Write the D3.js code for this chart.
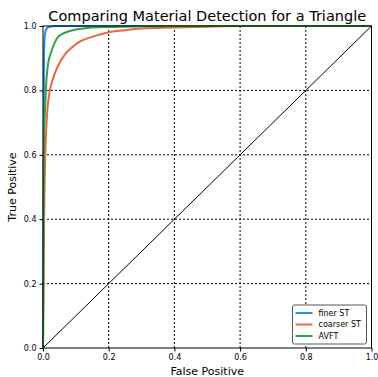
<!DOCTYPE html>
<html>
<head>
<meta charset="utf-8">
<script src="https://cdnjs.cloudflare.com/ajax/libs/d3/7.8.5/d3.min.js"></script>
<style>
    body { margin: 0; background: #fff; }
    svg { font-family: "DejaVu Sans", sans-serif; display: block; }
</style>
</head>
<body>
<svg id="roc"></svg>
<script>
// ROC curves, values
const SERIES = ["finer ST", "coarser ST", "AVFT"];
const COLORS = ["#1c93f0", "#e8683f", "#37a046"];

const FINER_FPR = [0, 0.002, 0.003, 0.005, 0.008, 0.012, 0.02, 0.04, 1];
const FINER_TPR = [0, 0.5, 0.9, 0.965, 0.985, 0.993, 0.998, 1, 1];

const COARSER_FPR = [0, 0.002, 0.004, 0.007, 0.012, 0.021, 0.03, 0.045, 0.067, 0.09, 0.113, 0.14, 0.164, 0.194, 0.25, 0.3, 0.4, 0.5, 0.6, 1];
const COARSER_TPR = [0, 0.25, 0.45, 0.6, 0.72, 0.8, 0.835, 0.875, 0.912, 0.935, 0.952, 0.963, 0.971, 0.979, 0.987, 0.992, 0.995, 0.998, 1, 1];

const AVFT_FPR = [0, 0.002, 0.004, 0.007, 0.01, 0.015, 0.025, 0.035, 0.046, 0.06, 0.076, 0.1, 0.137, 0.2, 0.3, 0.4, 1];
const AVFT_TPR = [0, 0.55, 0.68, 0.76, 0.826, 0.88, 0.919, 0.947, 0.966, 0.976, 0.983, 0.989, 0.994, 0.997, 0.999, 1, 1];

const TICKS = [0, 0.2, 0.4, 0.6, 0.8, 1.0];

const WIDTH = 378;
const HEIGHT = 377;
const MARGIN = { top: 26, right: 6.5, bottom: 29, left: 43 };

function zip(xs, ys) {
    return xs.map(function(x, i) { return [x, ys[i]]; });
}

const CURVES = [
    zip(FINER_FPR, FINER_TPR),
    zip(COARSER_FPR, COARSER_TPR),
    zip(AVFT_FPR, AVFT_TPR)
];

var svg = d3.select("#roc")
    .attr("width", WIDTH)
    .attr("height", HEIGHT);

var x = d3.scaleLinear().domain([0, 1]).range([MARGIN.left, WIDTH - MARGIN.right]);
var y = d3.scaleLinear().domain([0, 1]).range([HEIGHT - MARGIN.bottom, MARGIN.top]);

// grid
svg.append("g")
    .selectAll("line")
    .data(TICKS.slice(1, -1))
    .enter().append("line")
    .attr("x1", function(d) { return x(d); })
    .attr("x2", function(d) { return x(d); })
    .attr("y1", y(0))
    .attr("y2", y(1))
    .attr("stroke", "#000")
    .attr("stroke-width", 1)
    .attr("stroke-dasharray", "2,2");

svg.append("g")
    .selectAll("line")
    .data(TICKS.slice(1, -1))
    .enter().append("line")
    .attr("y1", function(d) { return y(d); })
    .attr("y2", function(d) { return y(d); })
    .attr("x1", x(0))
    .attr("x2", x(1))
    .attr("stroke", "#000")
    .attr("stroke-width", 1)
    .attr("stroke-dasharray", "2,2");

// chance diagonal
svg.append("line")
    .attr("x1", x(0)).attr("y1", y(0))
    .attr("x2", x(1)).attr("y2", y(1))
    .attr("stroke", "#000")
    .attr("stroke-width", 1);

var line = d3.line()
    .x(function(d) { return x(d[0]); })
    .y(function(d) { return y(d[1]); })
    .curve(d3.curveMonotoneX);

svg.append("g")
    .selectAll("path")
    .data(CURVES)
    .enter().append("path")
    .attr("d", line)
    .attr("fill", "none")
    .attr("stroke", function(d, i) { return COLORS[i]; })
    .attr("stroke-width", 2)
    .attr("stroke-linejoin", "round");

// axes
var fmt = d3.format(".1f");
svg.append("g")
    .attr("transform", "translate(0," + y(0) + ")")
    .call(d3.axisBottom(x).tickValues(TICKS).tickFormat(fmt).tickSize(3.5).tickPadding(3))
    .call(function(g) {
        g.select(".domain").remove();
        g.selectAll("text").attr("font-size", 8).attr("font-family", "DejaVu Sans").attr("fill", "#000");
    });

svg.append("g")
    .attr("transform", "translate(" + x(0) + ",0)")
    .call(d3.axisLeft(y).tickValues(TICKS).tickFormat(fmt).tickSize(3.5).tickPadding(3))
    .call(function(g) {
        g.select(".domain").remove();
        g.selectAll("text").attr("font-size", 8).attr("font-family", "DejaVu Sans").attr("fill", "#000");
    });

// frame
svg.append("rect")
    .attr("x", x(0)).attr("y", y(1))
    .attr("width", x(1) - x(0))
    .attr("height", y(0) - y(1))
    .attr("fill", "none")
    .attr("stroke", "#000")
    .attr("stroke-width", 1);

// labels
svg.append("text")
    .attr("x", (x(0) + x(1)) / 2)
    .attr("y", 21)
    .attr("text-anchor", "middle")
    .attr("font-size", 14.5)
    .text("Comparing Material Detection for a Triangle");

svg.append("text")
    .attr("x", (x(0) + x(1)) / 2)
    .attr("y", 375)
    .attr("text-anchor", "middle")
    .attr("font-size", 11)
    .text("False Positive");

svg.append("text")
    .attr("transform", "translate(16," + ((y(0) + y(1)) / 2) + ") rotate(-90)")
    .attr("text-anchor", "middle")
    .attr("font-size", 11)
    .text("True Positive");

// legend
var legend = svg.append("g")
    .attr("transform", "translate(292.5,305)");

legend.append("rect")
    .attr("width", 74)
    .attr("height", 39)
    .attr("rx", 2)
    .attr("fill", "#fff")
    .attr("stroke", "#555")
    .attr("stroke-width", 1);

var item = legend.selectAll(".item")
    .data(SERIES)
    .enter().append("g")
    .attr("class", "item")
    .attr("transform", function(d, i) { return "translate(0," + (8 + i * 11.5) + ")"; });

item.append("line")
    .attr("x1", 3).attr("x2", 20)
    .attr("stroke", function(d, i) { return COLORS[i]; })
    .attr("stroke-width", 2);

item.append("text")
    .attr("x", 26)
    .attr("dy", "0.35em")
    .attr("font-size", 8)
    .text(function(d) { return d; });
</script>
</body>
</html>
